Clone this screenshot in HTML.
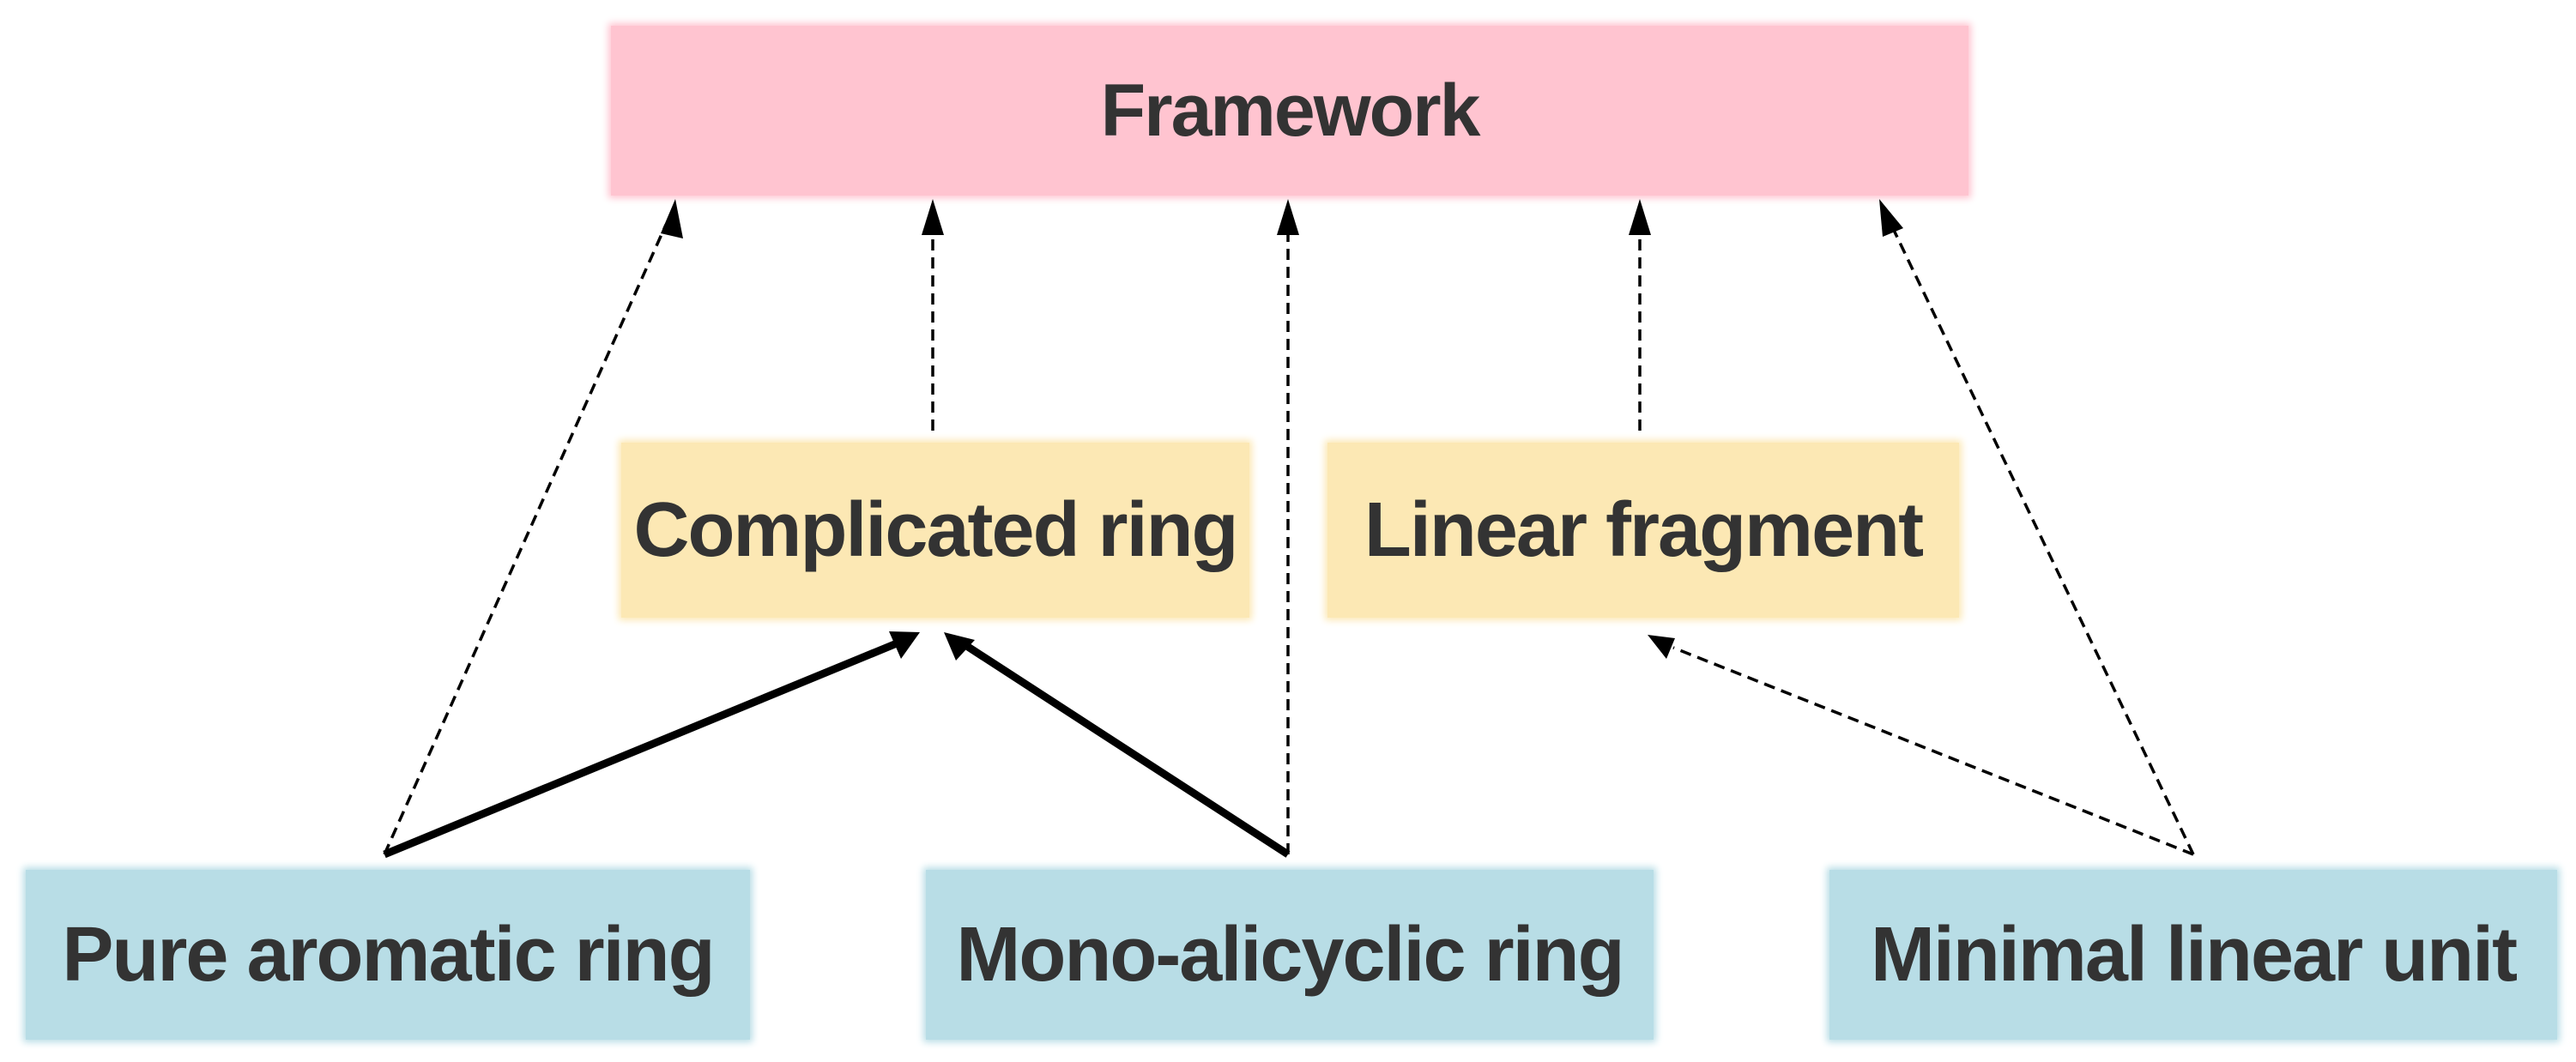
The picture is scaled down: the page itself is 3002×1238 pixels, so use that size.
<!DOCTYPE html>
<html><head><meta charset="utf-8"><style>
html,body{margin:0;padding:0;background:#fff;}
body{width:3002px;height:1238px;position:relative;overflow:hidden;font-family:"Liberation Sans",sans-serif;}
.b{position:absolute;display:flex;align-items:center;justify-content:center;font-weight:bold;color:#333;letter-spacing:-2px;}
.p{background:#FFC4D0;box-shadow:0 0 8px 3px #FFC4D0;}
.y{background:#FCE8B4;box-shadow:0 0 8px 3px #FCE8B4;}
.c{background:#B8DDE6;box-shadow:0 0 8px 3px #B8DDE6;}
svg{position:absolute;left:0;top:0;}
</style></head><body>
<div class="b p" style="left:712px;top:30px;width:1582px;height:198px;font-size:86px;">Framework</div>
<div class="b y" style="left:724px;top:516px;width:732px;height:204px;font-size:90px;">Complicated ring</div>
<div class="b y" style="left:1547px;top:516px;width:736px;height:204px;font-size:90px;">Linear fragment</div>
<div class="b c" style="left:30px;top:1014px;width:844px;height:198px;font-size:90px;">Pure aromatic ring</div>
<div class="b c" style="left:1079px;top:1014px;width:848px;height:198px;font-size:90px;">Mono-alicyclic ring</div>
<div class="b c" style="left:2132px;top:1014px;width:848px;height:198px;font-size:90px;">Minimal linear unit</div>
<svg width="3002" height="1238" viewBox="0 0 3002 1238">
<g stroke="#000" stroke-width="3.5" stroke-dasharray="13 8" fill="none">
<line x1="448" y1="996" x2="776" y2="262"/>
<line x1="1087" y1="502" x2="1087" y2="268"/>
<line x1="1501" y1="996" x2="1501" y2="268"/>
<line x1="1911" y1="502" x2="1911" y2="268"/>
<line x1="2556" y1="996" x2="2204" y2="262"/>
<line x1="2556" y1="996" x2="1950" y2="755"/>
</g>
<g stroke="#000" stroke-width="9" fill="none">
<line x1="448" y1="996" x2="1045" y2="750"/>
<line x1="1501" y1="996" x2="1125" y2="752"/>
</g>
<g fill="#000">
<polygon points="787,232 770,272 796,278"/>
<polygon points="1087,232 1074,274 1100,274"/>
<polygon points="1501,232 1488,274 1514,274"/>
<polygon points="1911,232 1898,274 1924,274"/>
<polygon points="2190,232 2194,276 2218,266"/>
<polygon points="1920,740 1942,768 1952,744"/>
<polygon points="1072,737 1036,736 1050,768"/>
<polygon points="1100,737 1114,770 1136,746"/>
</g>
</svg>
</body></html>
